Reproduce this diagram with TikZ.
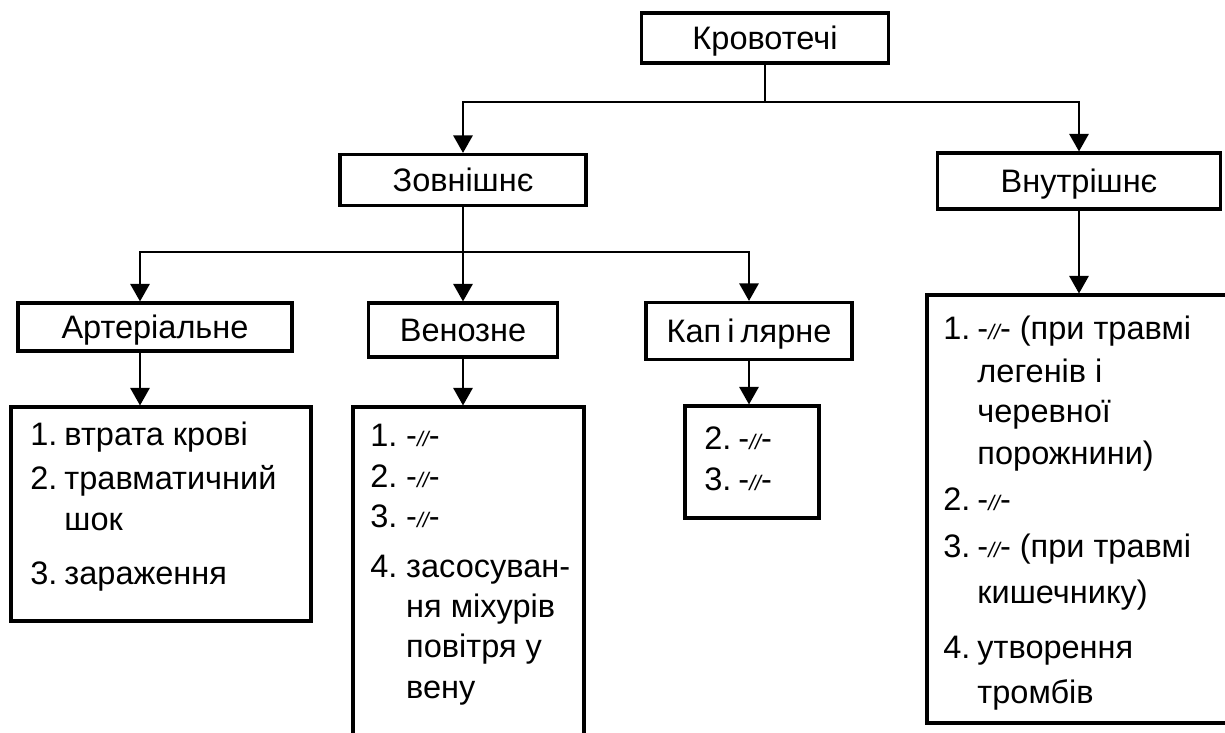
\documentclass[tikz,border=0pt]{standalone}
\usepackage{fontspec}
\setmainfont{Liberation Sans}
\usetikzlibrary{arrows.meta}
\newcommand{\sameas}{-{\fontsize{12}{12}\selectfont\itshape //}-}
\tikzset{box/.style = {shape=rectangle,draw,line width=1.8pt,inner sep=0pt,text height=13.2pt,text depth=0pt}}
\tikzset{list/.style = {anchor=base west,inner sep=0pt,align=left}}
\tikzset{edge/.style = {-{Triangle[width=11pt,length=10pt]},line width=1.2pt}}
\tikzset{line/.style = {-,line width=1.2pt}}

\begin{document}
\begin{tikzpicture}[x=0.02cm,y=-0.02cm,every node/.style={font=\fontsize{18.5}{23}\selectfont}]
\clip (0,0) rectangle (1225,733);
% boxes
\node[box,minimum width=4.94cm,minimum height=1.0cm] (krov) at (765,38) {Кровотечі};
\node[box,minimum width=4.92cm,minimum height=1.02cm] (zovn) at (463,180) {Зовнішнє};
\node[box,minimum width=5.66cm,minimum height=1.12cm] (vnutr) at (1079,181) {Внутрішнє};

\node[box,minimum width=5.48cm,minimum height=0.96cm] (arter) at (155,327) {Артеріальне};
\node[box,minimum width=3.78cm,minimum height=1.08cm] (ven) at (463,330) {Венозне};
\node[box,minimum width=4.12cm,minimum height=1.14cm] (kap) at (749,331) {Кап\hspace{3.5pt}і\hspace{3.5pt}лярне};

\node[box,minimum width=6.0cm,minimum height=4.28cm] (arterlist) at (161,514) {};
\node[box,minimum width=4.62cm,minimum height=7.06cm] (venlist) at (468.5,583.5) {};
\node[box,minimum width=2.68cm,minimum height=2.24cm] (kaplist) at (752,462) {};
\node[box,minimum width=6.26cm,minimum height=8.56cm] (vnutrlist) at (1083.5,509) {};

\coordinate (j1) at (765,102);
\coordinate (j2) at (463,252);
% lists
\node[list] (artertext) at (30,446) {\begin{tabular}[t]{@{}l@{\hspace{4pt}}l@{}}
1. & втрата крові\\[2pt]
2. & травматичний\\
   & шок\\[8pt]
3. & зараження
\end{tabular}};
\node[list] (ventext) at (370,447) {\begin{tabular}[t]{@{}l@{\hspace{5pt}}l@{}}
1. & \sameas\\
2. & \sameas\\
3. & \sameas\\[5pt]
4. & засосуван-\\
   & ня міхурів\\
   & повітря у\\
   & вену
\end{tabular}};
\node[list] (kaptext) at (704,450) {\begin{tabular}[t]{@{}l@{\hspace{4pt}}l@{}}
2. & \sameas\\
3. & \sameas
\end{tabular}};
\node[list] (vnutrtext) at (943,340) {\begin{tabular}[t]{@{}l@{\hspace{4pt}}l@{}}
1. & \sameas{} (при травмі\\[1pt]
   & легенів і\\
   & черевної\\[1pt]
   & порожнини)\\[3pt]
2. & \sameas\\[4pt]
3. & \sameas{} (при травмі\\[3pt]
   & кишечнику)\\[8pt]
4. & утворення\\[3pt]
   & тромбів
\end{tabular}};
%edges
\draw[line] (krov) to (j1);
\draw[edge] (j1) -| (zovn);
\draw[edge] (j1) -| (vnutr);

\draw[line] (zovn) to (j2);
\draw[edge] (j2) -| ([xshift=-0.3cm]arter.north);
\draw[edge] (j2) to (ven);
\draw[edge] (j2) -| (kap);

\draw[edge] ([xshift=-0.3cm]arter.south) to ([xshift=-0.3cm]arter.south |- arterlist.north);
\draw[edge] (ven.south) to (ven.south |- venlist.north);
\draw[edge] (kap.south) to (kap.south |- kaplist.north);
\draw[edge] (vnutr.south) to (vnutr.south |- vnutrlist.north);
\end{tikzpicture}
\end{document}
